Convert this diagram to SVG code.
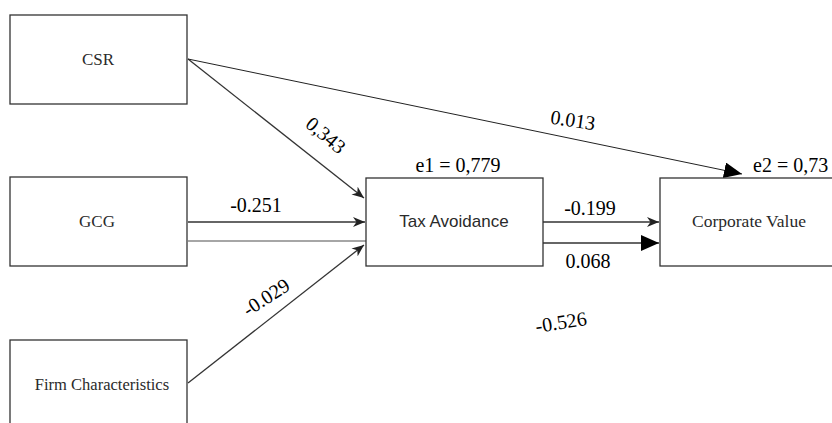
<svg xmlns="http://www.w3.org/2000/svg" width="832" height="423" viewBox="0 0 832 423">
<style>
.box{fill:#fff;stroke:#333;stroke-width:1.3}
.lbl{font-family:"Liberation Serif",serif;font-size:17px;fill:#2a2a2a;text-anchor:middle}
.sans{font-family:"Liberation Sans",sans-serif;font-size:17px}
.num{font-family:"Liberation Serif",serif;font-size:20px;fill:#000;text-anchor:middle}
.ln{fill:none;stroke:#333;stroke-width:1.3}
</style>
<defs>
<marker id="classic" markerUnits="userSpaceOnUse" markerWidth="12" markerHeight="10" refX="12" refY="5" orient="auto">
<path d="M0,0 L12,5 L0,10 L3.5,5 Z" fill="#222"/>
</marker>
<marker id="block" markerUnits="userSpaceOnUse" markerWidth="18" markerHeight="16" refX="18" refY="8" orient="auto">
<path d="M0,0 L18,8 L0,16 Z" fill="#000"/>
</marker>
</defs>
<g id="connectors">
<line class="ln" x1="188" y1="59" x2="364" y2="198" marker-end="url(#classic)"/>
<line x1="188" y1="59" x2="742" y2="174" stroke="#222" stroke-width="1" marker-end="url(#block)"/>
<line class="ln" x1="188" y1="222" x2="365" y2="222" marker-end="url(#classic)"/>
<line x1="188" y1="241" x2="366" y2="241" stroke="#888" stroke-width="1.3"/>
<line class="ln" x1="188" y1="383" x2="364" y2="245" marker-end="url(#classic)"/>
<line class="ln" x1="543" y1="222" x2="659" y2="222" marker-end="url(#classic)"/>
<line class="ln" x1="543" y1="243" x2="659" y2="243" marker-end="url(#block)"/>
<text class="num" transform="translate(326,135) rotate(40)" dy="7">0,343</text>
<text class="num" transform="translate(573,120) rotate(8.5)" dy="7">0.013</text>
<text class="num" x="256" y="212">-0.251</text>
<text class="num" transform="translate(266,297) rotate(-33)" dy="7">-0.029</text>
<text class="num" x="590" y="215">-0.199</text>
<text class="num" x="588" y="268">0.068</text>
<text class="num" transform="translate(561,322) rotate(-9)" dy="7">-0.526</text>
</g>
<g id="csr"><rect class="box" x="10" y="15" width="177" height="89"/><text class="lbl" x="98" y="65">CSR</text></g>
<g id="gcg"><rect class="box" x="10" y="177" width="177" height="89"/><text class="lbl" x="97" y="227">GCG</text></g>
<g id="firm"><rect class="box" x="10" y="340" width="177" height="100"/><text class="lbl" x="102" y="390" style="font-size:16.5px">Firm Characteristics</text></g>
<g id="tax"><rect class="box" x="366" y="178" width="177" height="88"/><text class="lbl sans" x="454" y="227">Tax Avoidance</text><text class="num" x="458" y="172">e1 = 0,779</text></g>
<g id="cv"><rect class="box" x="660" y="178" width="177" height="88"/><text class="lbl" x="749" y="227" style="font-size:17.5px">Corporate Value</text><text class="num" x="753" y="172" style="text-anchor:start">e2 = 0,73</text></g>
</svg>
